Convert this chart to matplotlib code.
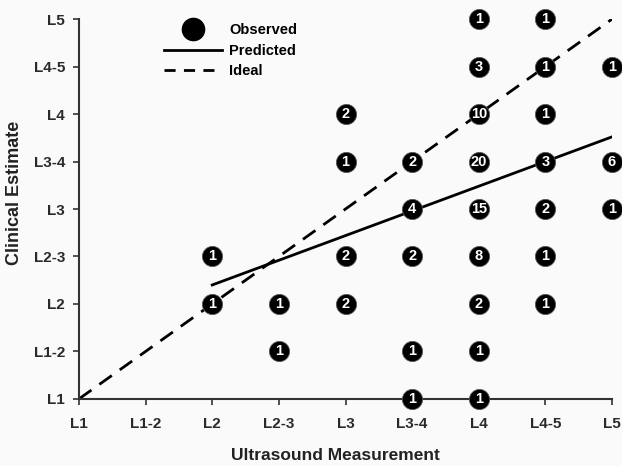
import numpy as np
import matplotlib.pyplot as plt
from matplotlib.lines import Line2D

plt.rcParams['font.family'] = ['Liberation Sans', 'DejaVu Sans']

levels = ['L1', 'L1-2', 'L2', 'L2-3', 'L3', 'L3-4', 'L4', 'L4-5', 'L5']

# observed: ultrasound level, clinical level, count
obs_x = ['L2', 'L2', 'L2-3', 'L2-3',
         'L3', 'L3', 'L3', 'L3',
         'L3-4', 'L3-4', 'L3-4', 'L3-4', 'L3-4',
         'L4', 'L4', 'L4', 'L4', 'L4', 'L4', 'L4', 'L4', 'L4',
         'L4-5', 'L4-5', 'L4-5', 'L4-5', 'L4-5', 'L4-5', 'L4-5',
         'L5', 'L5', 'L5']
obs_y = ['L2-3', 'L2', 'L2', 'L1-2',
         'L4', 'L3-4', 'L2-3', 'L2',
         'L3-4', 'L3', 'L2-3', 'L1-2', 'L1',
         'L5', 'L4-5', 'L4', 'L3-4', 'L3', 'L2-3', 'L2', 'L1-2', 'L1',
         'L5', 'L4-5', 'L4', 'L3-4', 'L3', 'L2-3', 'L2',
         'L4-5', 'L3-4', 'L3']
obs_n = [1, 1, 1, 1,
         2, 1, 2, 2,
         2, 4, 2, 1, 1,
         1, 3, 10, 20, 15, 8, 2, 1, 1,
         1, 1, 1, 3, 2, 1, 1,
         1, 6, 1]

# predicted line end points (level index units)
pred_x = [2, 8]
pred_y = [2.40, 5.52]
ideal_x = [0, 8]
ideal_y = [0, 8]

bg = '#fafafa'
fig = plt.figure(figsize=(6.22, 4.66), dpi=100, facecolor=bg)
ax = fig.add_axes([0.127, 0.144, 0.857, 0.815], facecolor=bg)

xi = np.array([levels.index(v) for v in obs_x])
yi = np.array([levels.index(v) for v in obs_y])

ax.plot(ideal_x, ideal_y, color='black', lw=2, dashes=(5.5, 3.5), zorder=2)
ax.plot(pred_x, pred_y, color='black', lw=2, zorder=2)
ax.scatter(xi, yi, s=210, color='black', edgecolors='#555555', linewidths=0.6,
           zorder=3, clip_on=False)
for x, y, n in zip(xi, yi, obs_n):
    ax.text(x, y, str(n), color='white', fontsize=10.5, fontweight='bold',
            ha='center', va='center', zorder=4, clip_on=False)

ax.set_xlim(0, 8)
ax.set_ylim(0, 8)
ax.set_xticks(range(len(levels)))
ax.set_xticklabels(levels)
ax.set_yticks(range(len(levels)))
ax.set_yticklabels(levels)
for lab in ax.get_xticklabels() + ax.get_yticklabels():
    lab.set_fontweight('bold')
    lab.set_fontsize(11)
ax.tick_params(length=4, width=1.2, colors='#333333', pad=6)
ax.tick_params(axis='x', pad=9)
for lab in ax.get_xticklabels() + ax.get_yticklabels():
    lab.set_color('#2a2a2a')
for s in ['top', 'right']:
    ax.spines[s].set_visible(False)
for s in ['left', 'bottom']:
    ax.spines[s].set_linewidth(1.5)
    ax.spines[s].set_color('#333333')

ax.set_xlabel('Ultrasound Measurement', fontsize=12.5, fontweight='bold', color='#222222')
ax.set_ylabel('Clinical Estimate', fontsize=13, fontweight='bold', color='#222222')
ax.xaxis.set_label_coords(0.482, -0.128)
ax.yaxis.set_label_coords(-0.105, 0.542)

handles = [Line2D([], [], marker='o', ls='none', color='black', markersize=16),
           Line2D([], [], color='black', lw=2),
           Line2D([], [], color='black', lw=2, dashes=(4, 3))]
ax.legend(handles, ['Observed', 'Predicted', 'Ideal'], loc='upper left',
          bbox_to_anchor=(0.134, 1.024), frameon=False, handlelength=4.0,
          labelspacing=0.45, handletextpad=0.5,
          prop={'weight': 'bold', 'size': 10.5})

fig.savefig('out.png', dpi=100, facecolor=bg)
